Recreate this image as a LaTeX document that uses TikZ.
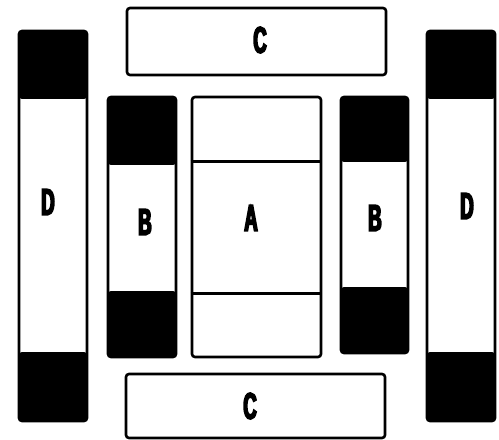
\documentclass[tikz,border=0pt]{standalone}
\usepackage{fontspec}
\newfontfamily\lblfont[FakeStretch=0.5,FakeBold=4.5]{Liberation Sans}
\usepackage{tikz}
\usetikzlibrary{positioning,calc}

\begin{document}
\begin{tikzpicture}[
    x=1bp, y=-1bp,
    box/.style={draw, line width=2.6bp, rounded corners=3bp, inner sep=0pt, minimum width=68bp},
    caps/.style 2 args={path picture={
        \fill (path picture bounding box.north west) rectangle ([yshift=-#1]path picture bounding box.north east);
        \fill (path picture bounding box.south west) rectangle ([yshift=#2]path picture bounding box.south east);}},
    lbl/.style={font=\lblfont\bfseries\fontsize{37bp}{37bp}\selectfont, inner sep=0pt}
  ]
    \useasboundingbox (0,0) rectangle (499,440);

    \node[box, minimum width=259bp, minimum height=67bp] (ctop) at (256.5, 41.5) {};
    \node[box, minimum width=259bp, minimum height=64bp] (cbot) at (255.5, 406) {};

    \node[box, minimum height=390bp, caps={68bp}{69bp}] (dl) at (53, 226) {};
    \node[box, minimum height=390bp, caps={68bp}{69bp}] (dr) at (461, 226) {};

    \node[box, minimum height=260bp, caps={68bp}{66bp}] (bl) at (142, 227) {};
    \node[box, minimum width=67bp, minimum height=256bp, caps={65bp}{66bp}] (br) at (374.5, 225) {};

    \node[box, minimum width=129bp, minimum height=260bp] (a) at (256.5, 227) {};
    \draw[line width=2.6bp] ([yshift=-66bp]a.north west) -- ([yshift=-66bp]a.north east);
    \draw[line width=2.6bp] ([yshift=65bp]a.south west) -- ([yshift=65bp]a.south east);

    \node[lbl] (la)  at (251, 218) {A};
    \node[lbl] (lbl) at (145, 222) {B};
    \node[lbl] (lbr) at (375, 218) {B};
    \node[lbl] (lct) at (260, 40) {C};
    \node[lbl] (lcb) at (250, 406) {C};
    \node[lbl] (ldl) at (48, 202) {D};
    \node[lbl] (ldr) at (467, 206) {D};
\end{tikzpicture}
\end{document}
